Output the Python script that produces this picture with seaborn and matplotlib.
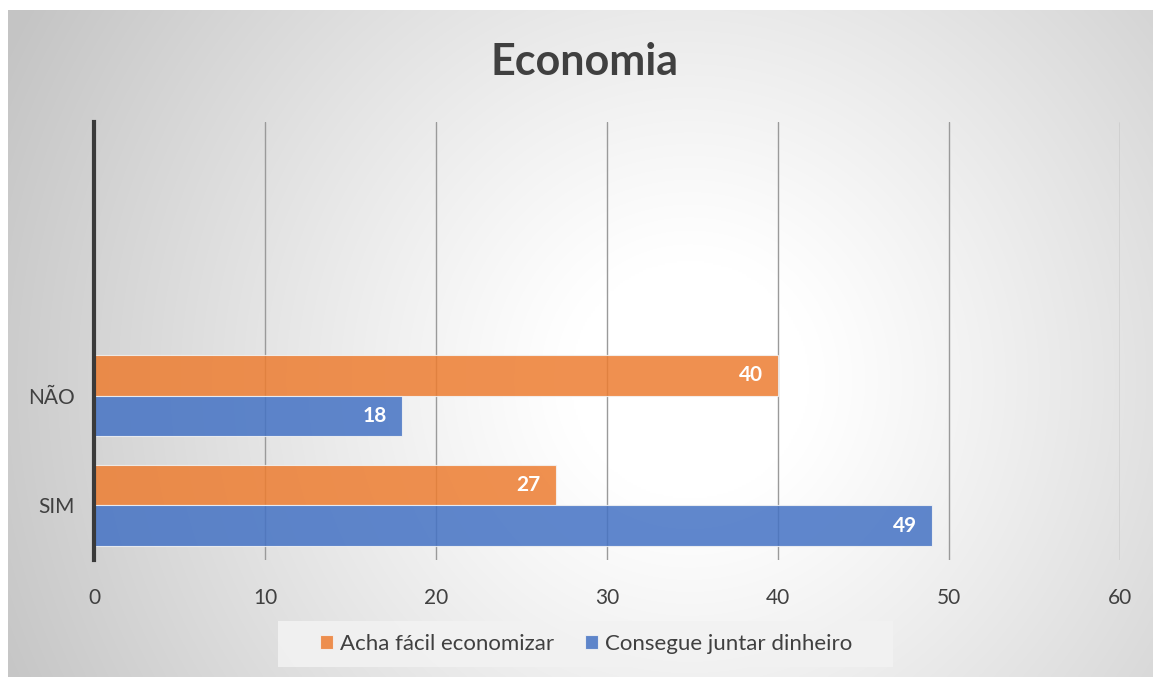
import numpy as np
import pandas as pd
import matplotlib
matplotlib.use("Agg")
import matplotlib.pyplot as plt
import seaborn as sns
from matplotlib.patches import Patch, Rectangle

# ---- data ----
categories = ["NÃO", "SIM"]
series_names = ["Acha fácil economizar", "Consegue juntar dinheiro"]
acha_facil = [40, 27]
consegue_juntar = [18, 49]
x_ticks = [0, 10, 20, 30, 40, 50, 60]
title = "Economia"

# empty category slots shown above the data in the original chart
blank_slots = ["  ", " "]

df = pd.DataFrame({
    "categoria": categories * 2,
    "serie": [series_names[0]] * len(categories) + [series_names[1]] * len(categories),
    "valor": acha_facil + consegue_juntar,
})

sns.set_theme(style="white")
plt.rcParams["font.family"] = ["Lato", "DejaVu Sans"]

W, H = 1159, 677
fig = plt.figure(figsize=(W / 100, H / 100), dpi=100)
fig.patch.set_facecolor("white")

# radial gradient background panel
bg = fig.add_axes([8 / W, 0, (1153 - 8) / W, (677 - 10) / H])
bg.set_axis_off()
gx = np.linspace(8, 1153, 600)
gy = np.linspace(10, 677, 360)
GX, GY = np.meshgrid(gx, gy)
r = np.sqrt((GX - 690) ** 2 + (GY - 380) ** 2)
t = np.clip((r - 120) / 640, 0, 1)
val = 1.0 - 0.23 * t ** 1.1
img = np.dstack([val, val, val])
bg.imshow(img, aspect="auto", extent=[0, 1, 0, 1], origin="upper", interpolation="bilinear")
bg.set_xlim(0, 1)
bg.set_ylim(0, 1)

# legend background box
fig.patches.append(Rectangle((278 / W, 1 - 667 / H), (893 - 278) / W, 46 / H,
                             transform=fig.transFigure, facecolor="#f2f2f2",
                             edgecolor="none", alpha=0.9, zorder=1))

ax = fig.add_axes([94 / W, (677 - 560) / H, (1120 - 94) / W, (560 - 122) / H])
ax.set_facecolor("none")

palette = {series_names[0]: "#ED7D31", series_names[1]: "#4472C4"}
sns.barplot(
    data=df, y="categoria", x="valor", hue="serie",
    order=blank_slots + categories, hue_order=series_names,
    palette=palette, saturation=1, orient="h", width=0.74, ax=ax,
    alpha=0.85, edgecolor="#f4f4f4", linewidth=0.8, legend=False, zorder=3,
)

ax.set_xlim(0, 60)
ax.set_ylim(3.5, -0.5)
ax.set_xticks(x_ticks)
ax.set_xticklabels([str(v) for v in x_ticks], fontsize=15, color="#404040")
ax.tick_params(axis="x", length=0, pad=20)
ax.tick_params(axis="y", length=0, pad=14, labelsize=15, labelcolor="#404040")
ax.set_xlabel("")
ax.set_ylabel("")
ax.grid(axis="x", color="#9a9a9a", linewidth=1.0, zorder=1)
ax.grid(axis="y", visible=False)
ax.set_axisbelow(True)
for s in ["top", "right", "bottom"]:
    ax.spines[s].set_visible(False)
ax.spines["left"].set_color("#3a3a3a")
ax.spines["left"].set_linewidth(3)
ax.spines["left"].set_zorder(5)

for cont in ax.containers:
    for p in cont.patches:
        w = p.get_width()
        if np.isnan(w) or w == 0:
            continue
        ax.annotate(
            f"{w:g}", xy=(w, p.get_y() + p.get_height() / 2),
            xytext=(-11, 0), textcoords="offset points",
            ha="right", va="center", color="white", fontsize=15, fontweight="bold", zorder=6,
        )

fig.text(585 / W, 1 - 62 / H, title, ha="center", va="center",
         fontsize=31, fontweight="bold", color="#404040")

handles = [Patch(facecolor=palette[n], alpha=0.85, edgecolor="#f4f4f4", linewidth=0.8) for n in series_names]
leg = fig.legend(
    handles, series_names, loc="center", bbox_to_anchor=(586 / W, 1 - 644 / H),
    ncol=2, fontsize=16, frameon=False,
    handlelength=0.6, handleheight=0.6, handletextpad=0.3, columnspacing=1.4,
    labelcolor="#404040",
)

fig.savefig("out.png", dpi=100, facecolor=fig.get_facecolor())
